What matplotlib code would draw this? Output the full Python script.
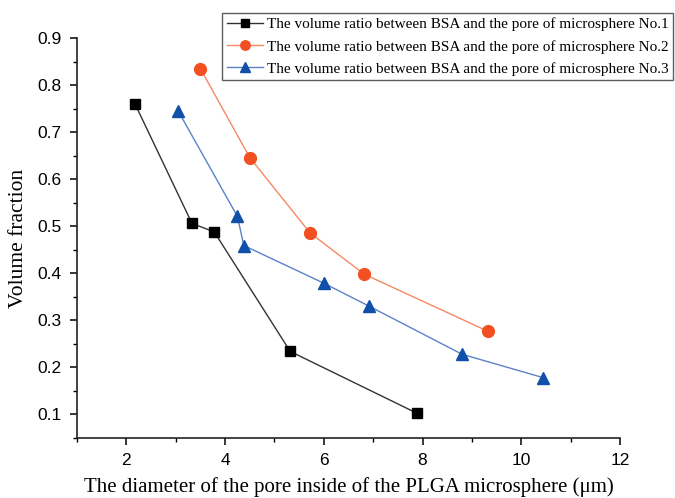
import matplotlib
matplotlib.use("Agg")
import matplotlib.pyplot as plt
from matplotlib.ticker import MultipleLocator

# Data
x1 = [2.18, 3.33, 3.78, 5.32, 7.88]
y1 = [0.759, 0.506, 0.488, 0.234, 0.103]
x2 = [3.50, 4.50, 5.72, 6.82, 9.32]
y2 = [0.835, 0.646, 0.486, 0.398, 0.277]
x3 = [3.05, 4.25, 4.38, 6.00, 6.92, 8.80, 10.45]
y3 = [0.745, 0.521, 0.459, 0.379, 0.330, 0.228, 0.178]
labels = ["The volume ratio between BSA and the pore of microsphere No.1",
          "The volume ratio between BSA and the pore of microsphere No.2",
          "The volume ratio between BSA and the pore of microsphere No.3"]
xlabel = "The diameter of the pore inside of the PLGA microsphere (\u03bcm)"
ylabel = "Volume fraction"

fig = plt.figure(figsize=(6.75, 4.98), dpi=100)
ax = fig.add_axes([0.114, 0.1205, 0.8045, 0.8032])

ax.plot(x1, y1, color="#333333", lw=1.0, marker="s", ms=7.5, mfc="black", mec="black", label=labels[0])
ax.plot(x2, y2, color="#F58A62", lw=1.0, marker="o", ms=8.5, mfc="#F25022", mec="#F25022", label=labels[1])
ax.plot(x3, y3, color="#5B82C8", lw=1.0, marker="^", ms=9, mfc="#1050A8", mec="#1050A8", label=labels[2])

ax.set_xlim(1, 12)
ax.set_ylim(0.05, 0.9)
ax.xaxis.set_major_locator(MultipleLocator(2))
ax.xaxis.set_minor_locator(MultipleLocator(1))
ax.yaxis.set_minor_locator(MultipleLocator(0.05))
ax.set_yticks([0.1, 0.2, 0.3, 0.4, 0.5, 0.6, 0.7, 0.8, 0.9])
ax.set_yticklabels(["0.1", "0.2", "0.3", "0.4", "0.5", "0.6", "0.7", "0.8", "0.9"])

for s in ["top", "right"]:
    ax.spines[s].set_visible(False)
for s in ["left", "bottom"]:
    ax.spines[s].set_linewidth(1.2)
    ax.spines[s].set_color("#222222")

ax.tick_params(which="major", direction="out", length=5, width=1.1, labelsize=12.5, pad=6)
ax.tick_params(which="minor", direction="out", length=3, width=1.0)
for t in ax.get_xticklabels() + ax.get_yticklabels():
    t.set_fontfamily("Liberation Sans")

ax.set_xlabel(xlabel, fontfamily="Liberation Serif", fontsize=15, labelpad=6)
ax.set_ylabel(ylabel, fontfamily="Liberation Serif", fontsize=15.5, labelpad=7)

leg = ax.legend(loc="upper left", bbox_to_anchor=(222/675, 1 - 13/498),
                bbox_transform=fig.transFigure,
                prop={"family": "Liberation Serif", "size": 11},
                frameon=True, fancybox=False, edgecolor="#333333",
                borderpad=0.3, labelspacing=0.55, handlelength=2.4,
                handletextpad=0.25, borderaxespad=0, markerscale=0.8)
leg.get_frame().set_linewidth(1.0)

fig.savefig("out.png", dpi=100)
